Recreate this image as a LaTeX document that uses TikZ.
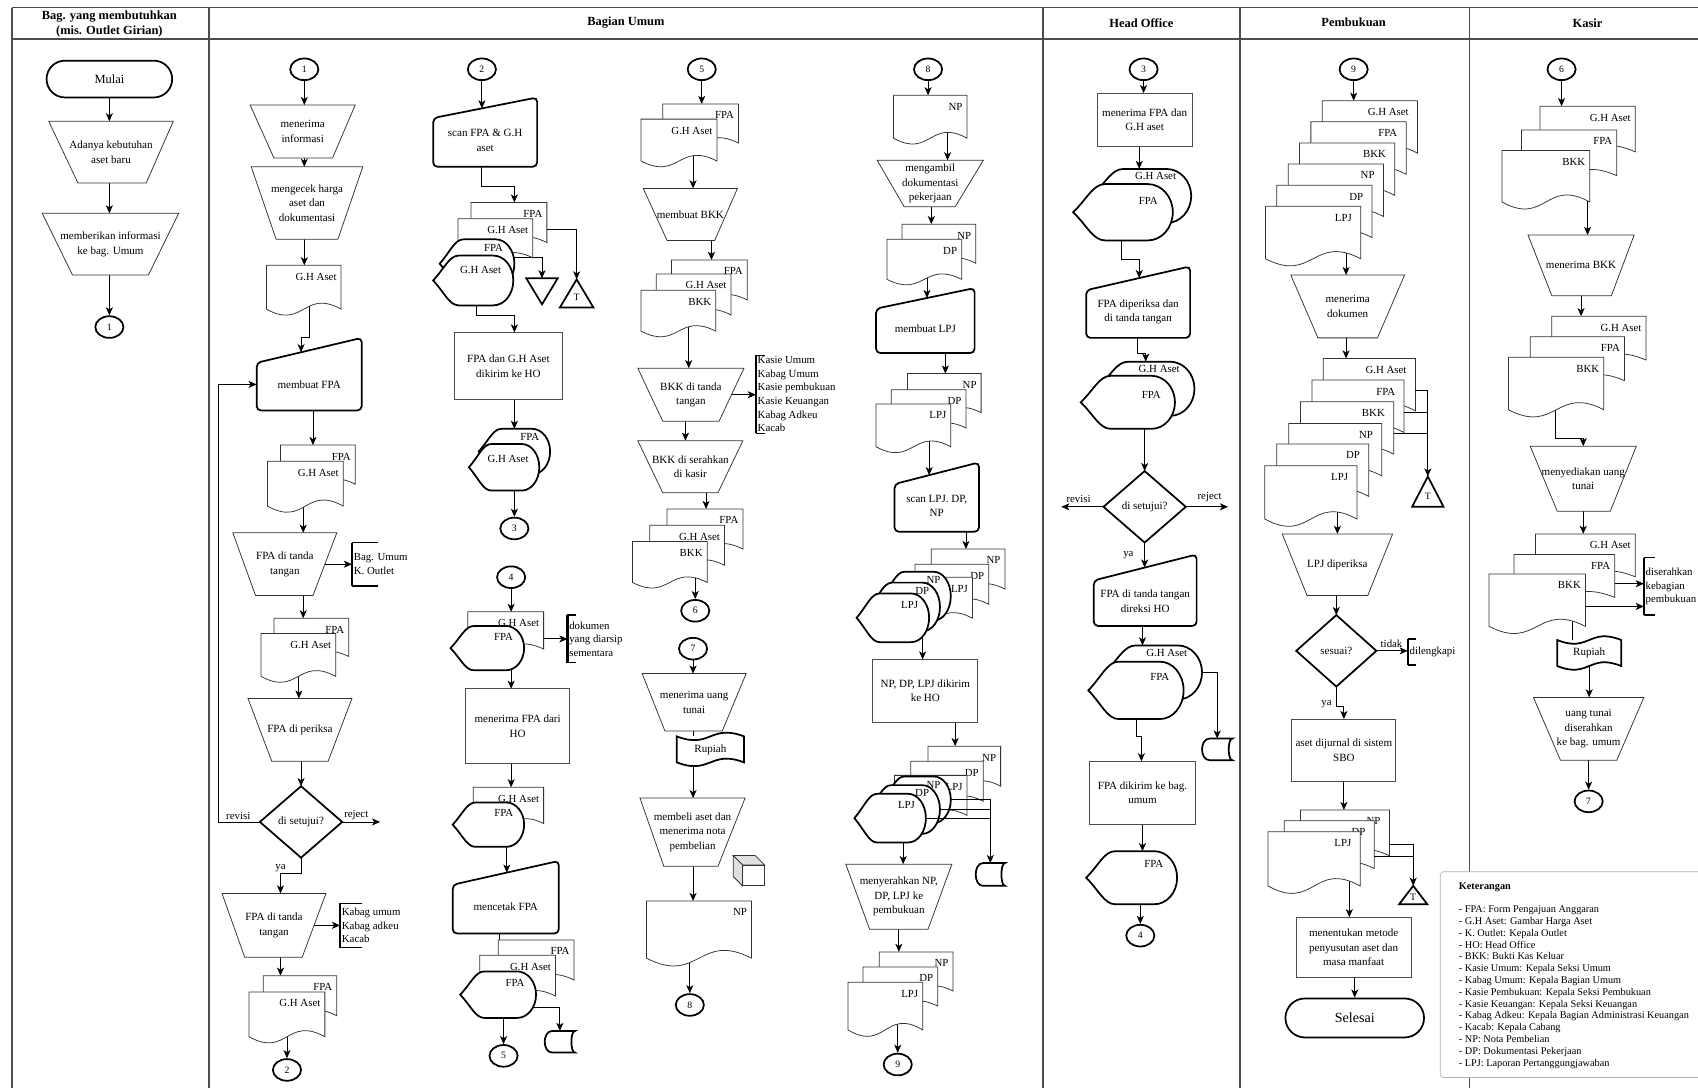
\documentclass[tikz,border=0pt]{standalone}
\usepackage{fontspec}
\setmainfont{Liberation Serif}
\usetikzlibrary{shapes.geometric,arrows.meta,fit,calc}
\pgfdeclarelayer{bg}
\pgfsetlayers{bg,main}
\tikzset{
  fitbox/.style={inner sep=0pt, outer sep=0pt, draw=none},
  thn/.style={line width=0.7pt, draw=black!80},
  thk/.style={line width=1.6pt, draw=black},
  arr/.style={line width=0.8pt, draw=black, -{Stealth[length=7.5pt,width=6.5pt,inset=2pt]}},
  ln/.style={line width=0.8pt, draw=black},
  txt/.style={font=\fontsize{10.2}{13.5}\selectfont, align=center, inner sep=0pt},
  lbl/.style={font=\fontsize{10}{12}\selectfont, inner sep=0pt},
  conn/.style={ellipse, thk, fill=white, minimum width=26pt, minimum height=20pt, inner sep=0pt, font=\fontsize{9}{10}\selectfont},
  lane/.style={line width=1.2pt, draw=black!70},
  hdr/.style={font=\bfseries\fontsize{11.5}{14}\selectfont, align=center, inner sep=0pt},
  term/.style={draw, line width=1.6pt, fill=white, inner sep=0pt},
  brtxt/.style={font=\fontsize{10}{12.5}\selectfont, align=left, inner sep=0pt, anchor=west},
}
\newcommand{\dins}{4}
% document: name x1 y1 x2 y2 label
\newcommand{\fcDoc}[6]{%
  \draw[thn, fill=white] (#2,#3) -- (#4,#3) -- (#4,{#5-0.12*(#5-#3)}) .. controls ({(#2+#4)/2},{#5-0.535*(#5-#3)}) and ({(#2+#4)/2},{#5+0.295*(#5-#3)}) .. (#2,{#5-0.12*(#5-#3)}) -- cycle;
  \node[lbl, anchor=north east] at ({#4-\dins},{#3+7}) {#6};
  \node[fitbox, fit={(#2,#3)(#4,#5)}] (#1) {};
}
% display: [label offset] name x1 y1 x2 y2 label
\newcommand{\fcDisp}[7][4]{%
  \draw[thk, fill=white] (#3,{(#4+#6)/2}) .. controls ({#3+0.14*(#5-#3)},{#4+0.26*(#6-#4)}) and ({#3+0.2*(#5-#3)},{#4}) .. ({#3+0.32*(#5-#3)},{#4}) -- ({#5-0.25*(#5-#3)},{#4}) .. controls ({#5-0.112*(#5-#3)},{#4}) and ({#5},{#4+0.224*(#6-#4)}) .. ({#5},{(#4+#6)/2}) .. controls ({#5},{#6-0.224*(#6-#4)}) and ({#5-0.112*(#5-#3)},{#6}) .. ({#5-0.25*(#5-#3)},{#6}) -- ({#3+0.32*(#5-#3)},{#6}) .. controls ({#3+0.2*(#5-#3)},{#6}) and ({#3+0.14*(#5-#3)},{#6-0.26*(#6-#4)}) .. (#3,{(#4+#6)/2}) -- cycle;
  \node[lbl, anchor=north east] at ({#5-0.15*(#5-#3)},{#4+#1}) {#7};
  \node[fitbox, fit={(#3,#4)(#5,#6)}] (#2) {};
}
% manual input: name x1 yl x2 yr y2 text
\newcommand{\fcMI}[7]{%
  \draw[thk, fill=white, rounded corners=4pt] (#2,#3) -- (#4,#5) -- (#4,#6) -- (#2,#6) -- cycle;
  \node[txt] at ({(#2+#4)/2},{(#3+#6)/2-2}) {#7};
  \node[fitbox, fit={(#2,#5)(#4,#6)}] (#1) {};
}
% trapezoid: name x1 x2 y1 x1b x2b y2 text
\newcommand{\fcTrap}[8]{%
  \draw[thn, fill=white] (#2,#4) -- (#3,#4) -- (#6,#7) -- (#5,#7) -- cycle;
  \node[txt] at ({(#2+#3)/2},{(#4+#7)/2}) {#8};
  \node[fitbox, fit={(#2,#4)(#3,#7)}] (#1) {};
}
% rectangle: name x1 y1 x2 y2 text
\newcommand{\fcRect}[6]{%
  \node[draw=black!70, line width=0.8pt, fill=white, fit={(#2,#3)(#4,#5)}, inner sep=0pt, outer sep=0pt] (#1) {};
  \node[txt] at (#1.center) {#6};
}
% diamond: name cx cy hw hh text
\newcommand{\fcDia}[6]{%
  \draw[thk, fill=white] (#2,{#3-#5}) -- ({#2+#4},#3) -- (#2,{#3+#5}) -- ({#2-#4},#3) -- cycle;
  \node[txt] at (#2,#3) {#6};
  \node[fitbox, fit={({#2-#4},{#3-#5})({#2+#4},{#3+#5})}] (#1) {};
}
% bracket annotation: name x y1 y2 w text
\newcommand{\fcBrk}[6]{%
  \draw[line width=1.2pt] ({#2+#5},#3) -- (#2,#3);
  \draw[line width=1.2pt] ({#2+#5},#4) -- (#2,#4);
  \draw[line width=2pt] (#2,#3) -- (#2,#4);
  \node[brtxt] at ({#2+1.5},{(#3+#4)/2}) {#6};
  \node[fitbox, fit={(#2,#3)({#2+#5},#4)}] (#1) {};
}
% stored data: name x1 y1 x2 y2
\newcommand{\fcStor}[5]{%
  \draw[thk, fill=white] ({#2+0.25*(#4-#2)},#3) -- (#4,#3) .. controls ({#4-0.16*(#4-#2)},#3) and ({#4-0.16*(#4-#2)},#5) .. (#4,#5) -- ({#2+0.25*(#4-#2)},#5) .. controls ({#2-0.083*(#4-#2)},#5) and ({#2-0.083*(#4-#2)},#3) .. ({#2+0.25*(#4-#2)},#3) -- cycle;
  \node[fitbox, fit={(#2,#3)(#4,#5)}] (#1) {};
}
% paper tape: name x1 y1 x2 y2 text
\newcommand{\fcTape}[6]{%
  \draw[thk, fill=white] (#2,#3) .. controls ({(#2+#4)/2},{#3+0.5*(#5-#3)}) and ({(#2+#4)/2},{#3-0.5*(#5-#3)}) .. (#4,#3) -- (#4,#5) .. controls ({(#2+#4)/2},{#5-0.5*(#5-#3)}) and ({(#2+#4)/2},{#5+0.5*(#5-#3)}) .. (#2,#5) -- cycle;
  \node[txt] at ({(#2+#4)/2},{(#3+#5)/2}) {#6};
  \node[fitbox, fit={(#2,#3)(#4,#5)}] (#1) {};
}
% cube: name x1 y1 x2 y2
\newcommand{\fcCube}[5]{%
  \draw[thn, fill=white] ({#2+0.3*(#4-#2)},{#3+0.3*(#4-#2)}) rectangle (#4,#5);
  \draw[thn, fill=black!12] (#2,#3) -- ({#4-0.3*(#4-#2)},#3) -- (#4,{#3+0.3*(#4-#2)}) -- ({#2+0.3*(#4-#2)},{#3+0.3*(#4-#2)}) -- cycle;
  \draw[thn, fill=black!12] (#2,#3) -- ({#2+0.3*(#4-#2)},{#3+0.3*(#4-#2)}) -- ({#2+0.3*(#4-#2)},#5) -- (#2,{#5-0.3*(#4-#2)}) -- cycle;
  \node[fitbox, fit={(#2,#3)(#4,#5)}] (#1) {};
}
% inverted triangle: name x1 y1 x2 y2
\newcommand{\fcTriD}[5]{%
  \draw[thk, fill=white] (#2,#3) -- (#4,#3) -- ({(#2+#4)/2},#5) -- cycle;
  \node[fitbox, fit={(#2,#3)(#4,#5)}] (#1) {};
}
% triangle with T: name x1 y1 x2 y2
\newcommand{\fcTriT}[5]{%
  \draw[thk, fill=white] ({(#2+#4)/2},#3) -- (#4,#5) -- (#2,#5) -- cycle;
  \node[inner sep=0pt, font=\fontsize{9}{9}\selectfont] at ({(#2+#4)/2},{#3+0.64*(#5-#3)}) {T};
  \node[fitbox, fit={(#2,#3)(#4,#5)}] (#1) {};
}

\begin{document}
\begin{tikzpicture}[x=1pt,y=-1pt]
\useasboundingbox (0,0) rectangle (1568,1005);
\begin{pgfonlayer}{bg}
\fill[white] (0,0) rectangle (1568,1005);
\draw[lane] (11,7) -- (1568,7);
\draw[lane] (11,36) -- (1568,36);
\foreach \lx in {11,193,963,1145,1357} {\draw[lane] (\lx,7) -- (\lx,1005);}
\end{pgfonlayer}

% headers
\node[hdr] (h1) at (101,22) {Bag. yang membutuhkan\\(mis. Outlet Girian)};
\node[hdr] (h2) at (578,21) {Bagian Umum};
\node[hdr] (h3) at (1054,21) {Head Office};
\node[hdr] (h4) at (1250,21) {Pembukuan};
\node[hdr] (h5) at (1466,21) {Kasir};

% ---------- column 1
\node[term, rounded corners=17pt, minimum width=116pt, minimum height=34pt, font=\fontsize{11.5}{12}\selectfont] (mulai) at (101,73) {Mulai};
\fcTrap{tAdanya}{45}{160}{112}{72}{135}{169}{Adanya kebutuhan\\aset baru}
\fcTrap{tMemberi}{39}{165}{197}{67}{137}{254}{memberikan informasi\\ke bag. Umum}
\node[conn] (c1a) at (101,302) {1};

% ---------- Bagian Umum A
\node[conn] (c1b) at (281,64) {1};
\fcTrap{tTerimaInfo}{231}{328}{97}{253}{307}{146}{menerima\\informasi}
\fcTrap{tCek}{232}{335}{154}{255}{312}{221}{mengecek harga\\aset dan\\dokumentasi}
\fcDoc{dGH1}{246}{245}{315}{291}{G.H Aset}
\fcMI{miFPA}{237}{335}{334}{312}{379}{membuat FPA}
\fcDoc{dA2a}{259}{411}{328}{452}{FPA}
\fcDoc{dA2b}{247}{426}{317}{473}{G.H Aset}
\fcTrap{tTTD1}{215}{311}{492}{236}{289}{550}{FPA di tanda\\tangan}
\fcBrk{brk1}{325}{501}{541}{24}{Bag. Umum\\K. Outlet}
\fcDoc{dA3a}{253}{571}{322}{611}{FPA}
\fcDoc{dA3b}{241}{585}{310}{630}{G.H Aset}
\fcTrap{tPeriksa}{229}{325}{645}{251}{303}{703}{FPA di periksa}
\fcDia{dia1}{278}{759}{38}{33}{di setujui?}
\fcTrap{tTTD2}{205}{301}{825}{226}{279}{884}{FPA di tanda\\tangan}
\fcBrk{brk2}{314}{834}{875}{20}{Kabag umum\\Kabag adkeu\\Kacab}
\fcDoc{dA4a}{243}{901}{311}{943}{FPA}
\fcDoc{dA4b}{230}{916}{300}{963}{G.H Aset}
\node[conn] (c2a) at (265,988) {2};

% ---------- Bagian Umum B
\node[conn] (c2b) at (445,64) {2};
\fcMI{miScan}{400}{109}{496}{90}{154}{scan FPA \& G.H\\aset}
\fcDoc{dB1a}{435}{187}{505}{229}{FPA}
\fcDoc{dB1b}{423}{202}{492}{243}{G.H Aset}
\fcDisp{pB1c}{406}{221}{475}{266}{FPA}
\fcDisp[10]{pB1d}{400}{236}{474}{282}{G.H Aset}
\fcTriD{triB1}{486}{257}{515}{281}
\fcTriT{triB2}{517}{258}{548}{284}
\fcRect{rKirim}{420}{307}{519}{369}{FPA dan G.H Aset\\dikirim ke HO}
\fcDisp{pB2a}{442}{396}{508}{438}{FPA}
\fcDisp[10]{pB2b}{433}{410}{498}{453}{G.H Aset}
\node[conn] (c3a) at (475,488) {3};
\node[conn] (c4a) at (472,533) {4};
\fcDoc{dB3a}{432}{565}{502}{604}{G.H Aset}
\fcDisp[7]{pB3b}{416}{578}{484}{619}{FPA}
\fcBrk{brk3}{524}{568}{612}{8}{dokumen\\yang diarsip\\sementara}
\fcRect{rTerima}{430}{636}{526}{705}{menerima FPA dari\\HO}
\fcDoc{dB4a}{437}{727}{502}{765}{G.H Aset}
\fcDisp[6]{pB4b}{418}{741}{484}{782}{FPA}
\fcMI{miCetak}{418}{817}{516}{795}{862}{mencetak FPA}
\fcDoc{dB5a}{460}{868}{530}{910}{FPA}
\fcDoc{dB5b}{443}{882}{513}{925}{G.H Aset}
\fcDisp[7]{pB5c}{425}{897}{495}{940}{FPA}
\fcStor{sB}{503}{952}{531}{972}
\node[conn] (c5a) at (465,975) {5};

% ---------- Bagian Umum C
\node[conn] (c5b) at (648,64) {5};
\fcDoc{dC1a}{612}{96}{682}{137}{FPA}
\fcDoc{dC1b}{592}{110}{662}{154}{G.H Aset}
\fcTrap{tBKK}{594}{681}{174}{616}{660}{222}{membuat BKK}
\fcDoc{dC2a}{620}{240}{690}{282}{FPA}
\fcDoc{dC2b}{606}{253}{675}{296}{G.H Aset}
\fcDoc{dC2c}{592}{268}{661}{311}{BKK}
\fcTrap{tBKKttd}{589}{687}{340}{612}{664}{389}{BKK di tanda\\tangan}
\fcBrk{brk4}{698}{328}{400}{8}{Kasie Umum\\Kabag Umum\\Kasie pembukuan\\Kasie Keuangan\\Kabag Adkeu\\Kacab}
\fcTrap{tSerah}{589}{686}{407}{612}{663}{455}{BKK di serahkan\\di kasir}
\fcDoc{dC3a}{616}{470}{686}{512}{FPA}
\fcDoc{dC3b}{600}{485}{669}{527}{G.H Aset}
\fcDoc{dC3c}{584}{500}{653}{543}{BKK}
\node[conn] (c6a) at (642,564) {6};
\node[conn] (c7a) at (640,599) {7};
\fcTrap{tUang}{593}{689}{622}{614}{667}{675}{menerima uang\\tunai}
\fcTape{rup1}{625}{680}{687}{704}{Rupiah}
\fcTrap{tBeli}{591}{688}{737}{613}{663}{800}{membeli aset dan\\menerima nota\\pembelian}
\fcCube{cube1}{677}{790}{706}{818}
\fcDoc{dNP1}{597}{832}{694}{892}{NP}
\node[conn] (c8a) at (637,928) {8};

% ---------- Bagian Umum D
\node[conn] (c8b) at (857,64) {8};
\fcDoc{dNP2}{825}{88}{893}{133}{NP}
\fcTrap{tAmbil}{810}{908}{148}{835}{882}{191}{mengambil\\dokumentasi\\pekerjaan}
\fcDoc{dD1a}{833}{207}{901}{248}{NP}
\fcDoc{dD1b}{819}{221}{888}{263}{DP}
\fcMI{miLPJ}{809}{285}{900}{266}{326}{membuat LPJ}
\fcDoc{dD2a}{838}{345}{906}{386}{NP}
\fcDoc{dD2b}{823}{360}{892}{400}{DP}
\fcDoc{dD2c}{809}{373}{878}{418}{LPJ}
\fcMI{miScan2}{826}{447}{904}{427}{491}{scan LPJ. DP,\\NP}
\fcDoc{dD3a}{860}{507}{928}{549}{NP}
\fcDoc{dD3b}{845}{521}{913}{563}{DP}
\fcDoc{dD3c}{830}{533}{898}{576}{LPJ}
\fcDisp{pD3d}{815}{528}{878}{573}{NP}
\fcDisp{pD3e}{803}{538}{868}{583}{DP}
\fcDisp[7]{pD3f}{791}{548}{858}{593}{LPJ}
\fcRect{rHO}{806}{609}{903}{667}{NP, DP, LPJ dikirim\\ke HO}
\fcDoc{dD4a}{857}{689}{924}{731}{NP}
\fcDoc{dD4b}{841}{703}{908}{745}{DP}
\fcDoc{dD4c}{826}{716}{893}{758}{LPJ}
\fcDisp{pD4d}{815}{717}{878}{760}{NP}
\fcDisp{pD4e}{802}{725}{868}{770}{DP}
\fcDisp[7]{pD4f}{789}{733}{855}{778}{LPJ}
\fcStor{sD}{901}{797}{928}{818}
\fcTrap{tSerahkan}{781}{879}{798}{803}{857}{858}{menyerahkan NP,\\DP, LPJ ke\\pembukuan}
\fcDoc{dD5a}{812}{879}{880}{920}{NP}
\fcDoc{dD5b}{797}{893}{866}{934}{DP}
\fcDoc{dD5c}{783}{907}{852}{957}{LPJ}
\node[conn] (c9a) at (829,983) {9};

% ---------- Head Office
\node[conn] (c3b) at (1056,64) {3};
\fcRect{rHOterima}{1013}{86}{1101}{135}{menerima FPA dan\\G.H aset}
\fcDisp[3]{pH1a}{1008}{156}{1100}{206}{G.H Aset}
\fcDisp[12]{pH1b}{991}{170}{1083}{222}{FPA}
\fcMI{miHO1}{1003}{268}{1099}{246}{312}{FPA diperiksa dan\\di tanda tangan}
\fcDisp[3]{pH2a}{1013}{334}{1103}{384}{G.H Aset}
\fcDisp[14]{pH2b}{998}{347}{1085}{396}{FPA}
\fcDia{dia2}{1057}{468}{38}{33}{di setujui?}
\fcMI{miHO2}{1010}{536}{1105}{512}{578}{FPA di tanda tangan\\direksi HO}
\fcDisp[3]{pH3a}{1020}{596}{1110}{646}{G.H Aset}
\fcDisp[11]{pH3b}{1005}{611}{1093}{664}{FPA}
\fcStor{sH}{1110}{682}{1138}{702}
\fcRect{rHO2}{1006}{703}{1104}{761}{FPA dikirim ke bag.\\umum}
\fcDisp[8]{pH4}{1003}{786}{1087}{835}{FPA}
\node[conn] (c4b) at (1053,864) {4};

% ---------- Pembukuan
\renewcommand{\dins}{8}
\node[conn] (c9b) at (1250,64) {9};
\fcDoc{dP1a}{1221}{93}{1309}{148}{G.H Aset}
\fcDoc{dP1b}{1210.5}{112.5}{1298.5}{167.5}{FPA}
\fcDoc{dP1c}{1200}{132}{1288}{187}{BKK}
\fcDoc{dP1d}{1189.5}{151.5}{1277.5}{206.5}{NP}
\fcDoc{dP1e}{1179}{171}{1267}{226}{DP}
\fcDoc{dP1f}{1168.5}{190.5}{1256.5}{245.5}{LPJ}
\fcTrap{tDok}{1192}{1297}{254}{1217}{1272}{312}{menerima\\dokumen}
\fcDoc{dP2a}{1222}{331}{1307}{386}{G.H Aset}
\fcDoc{dP2b}{1211.5}{351}{1296.5}{406}{FPA}
\fcDoc{dP2c}{1201}{371}{1287}{426}{BKK}
\fcDoc{dP2d}{1190}{391}{1276}{446}{NP}
\fcDoc{dP2e}{1179}{410}{1264}{465}{DP}
\fcDoc{dP2f}{1168}{430}{1253}{486}{LPJ}
\fcTriT{triP2}{1304}{440}{1333}{468}
\fcTrap{tLPJ}{1184}{1286}{493}{1207}{1263}{550}{LPJ diperiksa}
\fcDia{dia3}{1234}{601}{37}{33}{sesuai?}
\fcBrk{brk5}{1300}{590}{614}{8}{dilengkapi}
\fcRect{rSBO}{1193}{664}{1289}{722}{aset dijurnal di sistem\\SBO}
\fcDoc{dP3a}{1201}{748}{1283}{796}{NP}
\fcDoc{dP3b}{1186}{758}{1269}{808}{DP}
\fcDoc{dP3c}{1171}{768}{1256}{825}{LPJ}
\fcTriT{triP3}{1292}{818}{1318}{835}
\fcRect{rMetode}{1197}{847}{1303}{903}{menentukan metode\\penyusutan aset dan\\masa manfaat}
\node[term, rounded corners=18pt, minimum width=128pt, minimum height=36pt, font=\fontsize{13}{14}\selectfont] (selesai) at (1251,940) {Selesai};

% ---------- Kasir
\renewcommand{\dins}{4}
\node[conn] (c6b) at (1442,64) {6};
\fcDoc{dK1a}{1422}{98}{1510}{146}{G.H Aset}
\fcDoc{dK1b}{1405}{120}{1493}{168}{FPA}
\fcDoc{dK1c}{1387}{139}{1468}{193}{BKK}
\fcTrap{tBKK2}{1411}{1509}{217}{1433}{1488}{273}{menerima BKK}
\fcDoc{dK2a}{1433}{292}{1520}{338}{G.H Aset}
\fcDoc{dK2b}{1413}{311}{1500}{357}{FPA}
\fcDoc{dK2c}{1393}{330}{1481}{385}{BKK}
\fcTrap{tUang2}{1413}{1511}{412}{1438}{1487}{472}{menyediakan uang\\tunai}
\fcDoc{dK3a}{1418}{493}{1510}{538}{G.H Aset}
\fcDoc{dK3b}{1398}{512}{1491}{557}{FPA}
\fcDoc{dK3c}{1375}{530}{1464}{585}{BKK}
\fcBrk{brk6}{1518}{515}{568}{10}{diserahkan\\kebagian\\pembukuan}
\fcTape{rup2}{1438}{591}{1497}{615}{Rupiah}
\fcTrap{tUang3}{1416}{1518}{644}{1441}{1493}{702}{uang tunai\\diserahkan\\ke bag. umum}
\node[conn] (c7b) at (1467,740) {7};

% ---------- Keterangan
\node[draw=black!30, line width=0.6pt, rounded corners=3pt, fill=white, fit={(1330,805)(1580,995)}, inner sep=0pt] (ketbox) {};
\node[anchor=north west, align=left, inner sep=0pt, font=\fontsize{9.5}{10.9}\selectfont] (ket) at (1347,815) {\textbf{Keterangan}\\[10.5pt]
- FPA: Form Pengajuan Anggaran\\
- G.H Aset: Gambar Harga Aset\\
- K. Outlet: Kepala Outlet\\
- HO: Head Office\\
- BKK: Bukti Kas Keluar\\
- Kasie Umum: Kepala Seksi Umum\\
- Kabag Umum: Kepala Bagian Umum\\
- Kasie Pembukuan: Kepala Seksi Pembukuan\\
- Kasie Keuangan: Kepala Seksi Keuangan\\
- Kabag Adkeu: Kepala Bagian Administrasi Keuangan\\
- Kacab: Kepala Cabang\\
- NP: Nota Pembelian\\
- DP: Dokumentasi Pekerjaan\\
- LPJ: Laporan Pertanggungjawaban};

% ---------- connector labels
\node[lbl, anchor=south] (lrev1) at ($(dia1.west)+(-20,-1.5)$) {revisi};
\node[lbl, anchor=south] (lrej1) at ($(dia1.east)+(13,-1.5)$) {reject};
\node[lbl] (lya1) at ($(dia1.south)+(-19,10)$) {ya};
\node[lbl, anchor=south] (lrev2) at ($(dia2.west)+(-23,-4)$) {revisi};
\node[lbl, anchor=south] (lrej2) at ($(dia2.east)+(22,-4)$) {reject};
\node[lbl] (lya2) at ($(dia2.south)+(-15,12)$) {ya};
\node[lbl, anchor=south] (ltidak) at ($(dia3.east)+(14,-3)$) {tidak};
\node[lbl] (lya3) at ($(dia3.south)+(-9,16)$) {ya};

% ---------- connectors drawn on top of shapes
\draw[arr] (pD4d.east) -| (sD.north);
\draw[ln] (pD4e.east) -| (sD.north);
\draw[ln] (pD4f.east) -| (sD.north);
\draw[arr] ($(dP2a.east)+(0,2)$) -| (triP2.north);
\draw[ln] ($(dP2b.east)+(0,2)$) -| (triP2.north);
\draw[ln] ($(dP2c.east)+(0,2)$) -| (triP2.north);
\draw[arr] ($(dP3a.east)+(0,8)$) -| (triP3.north);
\draw[ln] ($(dP3b.east)+(0,8)$) -| (triP3.north);

% ---------- connectors under shapes
\begin{pgfonlayer}{bg}
% column 1
\draw[arr] (mulai.south) -- (mulai.south |- tAdanya.north);
\draw[arr] (mulai.south |- tAdanya.south) -- (mulai.south |- tMemberi.north);
\draw[arr] (mulai.south |- tMemberi.south) -- (c1a.north);
% A
\draw[arr] (c1b.south) -- (c1b.south |- tTerimaInfo.north);
\draw[arr] (c1b.south |- tTerimaInfo.south) -- (c1b.south |- tCek.north);
\draw[arr] (c1b.south |- tCek.south) -- (c1b.south |- dGH1.north);
\draw[arr] ($(dGH1.center)+(5.5,0)$) |- ($(miFPA.north)+(-7.5,0)$) -- ($(miFPA.north)+(-7.5,13.3)$);
\draw[arr] ($(miFPA.center)+(3.5,0)$) -- ($(dA2a.north)+(-4.5,0)$);
\draw[arr] ($(dA2b.center)+(-2,0)$) -- ($(tTTD1.north)+(17,0)$);
\draw[arr] (tTTD1.center) -- (tTTD1.center -| brk1.west);
\draw[arr] ($(tTTD1.center)+(17,0)$) -- ($(dA3a.north)+(-7.5,0)$);
\draw[arr] ($(dA3b.center)+(0.5,0)$) -- ($(tPeriksa.north)+(-1,0)$);
\draw[arr] (dia1.north |- tPeriksa.center) -- (dia1.north);
\draw[arr] (dia1.west) -- ++(-38,0) |- ($(miFPA.west)+(0,9.5)$);
\coordinate (rej1) at ($(dia1.east)+(35,0)$);
\draw[arr] (dia1.east) -- (rej1);
\draw[arr] (dia1.south) |- ($(tTTD2.north)+(6,-18)$) -- ($(tTTD2.north)+(6,0)$);
\draw[arr] (tTTD2.center) -- (tTTD2.center -| brk2.west);
\draw[arr] ($(tTTD2.center)+(6,0)$) -- ($(dA4a.north)+(-18,0)$);
\draw[arr] (c2a.north |- dA4b.center) -- (c2a.north);
% B
\draw[arr] (c2b.south) -- ($(c2b.south |- miScan.north)+(0,10.1)$);
\draw[arr] (c2b.south |- miScan.center) |- ($(dB1a.north)+(5,-15)$) -- ($(dB1a.north)+(5,0)$);
\draw[arr] ($(dB1b.center)+(0,15.5)$) -| (triB1.north);
\draw[arr] ($(dB1a.center)+(0,4)$) -| (triB2.north);
\draw[arr] ($(pB1d.center)+(3,0)$) |- ($(rKirim.north)+(5.5,-16)$) -- ($(rKirim.north)+(5.5,0)$);
\draw[arr] (c3a.north |- rKirim.center) -- (c3a.north |- pB2a.north);
\draw[arr] (c3a.north |- pB2b.center) -- (c3a.north);
\draw[arr] (c4a.south) -- (c4a.south |- dB3a.north);
\draw[arr] ($(dB3a.center)+(0,5.5)$) -- (brk3.west);
\draw[arr] (c4a.south |- pB3b.center) -- (c4a.south |- rTerima.north);
\draw[arr] (c4a.south |- rTerima.center) -- (c4a.south |- dB4a.north);
\draw[arr] ($(pB4b.center)+(17,0)$) -- ($(miCetak.north)+(1,10.8)$);
\draw[ln] ($(miCetak.center)+(-6,0)$) -- ($(dB5a.north)+(-34,0)$);
\draw[arr] ($(pB5c.center)+(0,11.5)$) -| (sB.north);
\draw[arr] (c5a.north |- pB5c.center) -- (c5a.north);
% C
\draw[arr] (c5b.south) -- (c5b.south |- dC1a.north);
\draw[arr] ($(dC1b.center)+(13,0)$) -- ($(tBKK.north)+(2.5,0)$);
\draw[arr] ($(tBKK.center)+(19.5,0)$) -- ($(dC2a.north)+(2,0)$);
\draw[arr] ($(dC2c.center)+(9.5,0)$) -- ($(tBKKttd.north)+(-2,0)$);
\draw[arr] (tBKKttd.center) -- (tBKKttd.center -| brk4.west);
\draw[arr] ($(tBKKttd.center)+(-5,0)$) -- ($(tSerah.north)+(-4.5,0)$);
\draw[arr] ($(tSerah.center)+(14.5,0)$) -- ($(dC3a.north)+(1,0)$);
\draw[arr] (c6a.north |- dC3c.center) -- (c6a.north);
\draw[arr] (c7a.south) -- (c7a.south |- tUang.north);
\draw[ln] (c7a.south |- tUang.center) -- (c7a.south |- rup1.north);
\draw[arr] (c7a.south |- rup1.center) -- (c7a.south |- tBeli.north);
\draw[arr] (c7a.south |- tBeli.center) -- (c7a.south |- dNP1.north);
\draw[arr] (c8a.north |- dNP1.center) -- (c8a.north);
% D
\draw[arr] (c8b.south) -- (c8b.south |- dNP2.north);
\draw[arr] ($(dNP2.center)+(16,0)$) -- ($(tAmbil.north)+(16,0)$);
\draw[arr] ($(tAmbil.center)+(1,0)$) -- ($(dD1a.north)+(-7,0)$);
\draw[arr] ($(dD1b.center)+(2.5,0)$) -- ($(miLPJ.north)+(1.5,9.2)$);
\draw[arr] ($(miLPJ.center)+(18.5,0)$) -- ($(dD2a.north)+(1,0)$);
\draw[arr] ($(dD2c.center)+(14.5,0)$) -- ($(miScan2.north)+(-7,11.8)$);
\draw[arr] ($(miScan2.center)+(27,0)$) -- ($(dD3a.north)+(-2,0)$);
\draw[arr] ($(pD3f.center)+(27.5,0)$) -- ($(rHO.north)+(-2.5,0)$);
\draw[arr] ($(rHO.center)+(27.5,0)$) -- ($(dD4a.north)+(-8.5,0)$);
\draw[arr] ($(pD4f.center)+(12,0)$) -- ($(tSerahkan.north)+(4,0)$);
\draw[arr] (tSerahkan.center) -- ($(dD5a.north)+(-16,0)$);
\draw[arr] (c9a.north |- dD5c.center) -- (c9a.north);
% Head Office
\draw[arr] (c3b.south) -- (c3b.south |- rHOterima.north);
\draw[arr] ($(rHOterima.center)+(-5,0)$) -- ($(pH1a.north)+(-2,0)$);
\draw[arr] ($(pH1b.center)+(-1,0)$) |- ($(miHO1.north)+(1,-6)$) -- ($(miHO1.north)+(1,10.8)$);
\draw[arr] ($(miHO1.center)+(-1,0)$) |- ($(pH2a.north)+(0,-8)$) -- (pH2a.north);
\draw[arr] (dia2.north |- pH2b.center) -- (dia2.north);
\coordinate (rev2) at ($(dia2.west)+(-39,0)$);
\coordinate (rej2) at ($(dia2.east)+(39,0)$);
\draw[arr] (dia2.west) -- (rev2);
\draw[arr] (dia2.east) -- (rej2);
\draw[arr] (dia2.south) -- ($(miHO2.north)+(-0.5,12.1)$);
\draw[arr] ($(miHO2.center)+(-2.5,0)$) -- ($(pH3a.north)+(-10,0)$);
\draw[arr] (pH3a.east) -| (sH.north);
\draw[arr] (pH3b.center) |- ($(rHO2.north)+(-1,-23)$) -- ($(rHO2.north)+(-1,0)$);
\draw[arr] (rHO2.center) -- ($(pH4.north)+(10,0)$);
\draw[arr] (c4b.north |- pH4.center) -- (c4b.north);
% Pembukuan
\draw[arr] (c9b.south) -- (c9b.south |- dP1a.north);
\draw[arr] ($(dP1f.center)+(30.5,0)$) -- ($(tDok.north)+(-1.5,0)$);
\draw[arr] ($(tDok.center)+(-1.5,0)$) -- ($(dP2a.north)+(-21.5,0)$);
\draw[arr] ($(dP2f.center)+(24.5,0)$) -- (tLPJ.north);
\draw[arr] (dia3.north |- tLPJ.center) -- (dia3.north);
\draw[arr] (dia3.east) -- (dia3.east -| brk5.west);
\draw[arr] (dia3.south) |- ($(rSBO.north)+(0,-12)$) -- (rSBO.north);
\draw[arr] (rSBO.south) -- (rSBO.south |- dP3a.north);
\draw[arr] ($(dP3c.center)+(32.5,0)$) -- ($(rMetode.north)+(-4,0)$);
\draw[arr] (selesai.north |- rMetode.center) -- (selesai.north);
% Kasir
\draw[arr] (c6b.south) -- (c6b.south |- dK1a.north);
\draw[arr] ($(dK1c.center)+(38.5,0)$) -- ($(tBKK2.north)+(6,0)$);
\draw[arr] (tBKK2.center) -- ($(dK2a.north)+(-16.5,0)$);
\draw[arr] ($(dK2c.center)+(-1,0)$) |- ($(tUang2.north)+(0,-7)$) -- (tUang2.north);
\draw[arr] (tUang2.center) -- ($(dK3a.north)+(-2,0)$);
\draw[arr] ($(dK3b.east)+(0,4.5)$) -- ($(brk6.west)+(0,-2.5)$);
\draw[arr] ($(dK3c.east)+(0,2.5)$) -- ($(brk6.west)+(0,18.5)$);
\draw[ln] ($(dK3c.center)+(32.5,0)$) -- ($(rup2.north)+(-15.5,0)$);
\draw[arr] (rup2.south) -- (rup2.south |- tUang3.north);
\draw[arr] (c7b.north |- tUang3.center) -- (c7b.north);
\end{pgfonlayer}
\end{tikzpicture}
\end{document}
